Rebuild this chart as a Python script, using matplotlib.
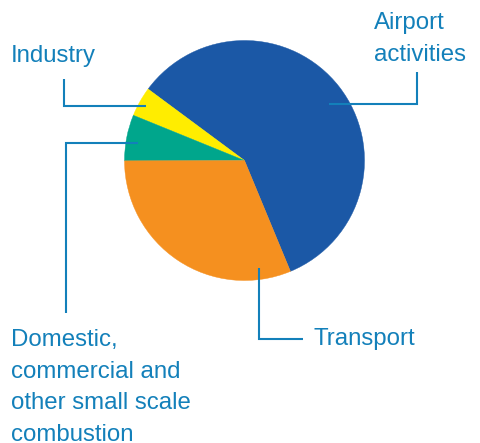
import matplotlib
matplotlib.use("Agg")
import matplotlib.pyplot as plt

# ── Data ────────────────────────────────────────────────────────────────────
labels = ["Airport\nactivities", "Industry",
          "Domestic,\ncommercial and\nother small scale\ncombustion", "Transport"]
shares = [58.6, 4.0, 6.2, 31.2]
colors = ["#1B58A6", "#FFED00", "#00A68C", "#F5901F"]

TEXT_COLOR = "#1380BA"
W, H = 480, 443


def Y(y):
    # pixel row (from top) -> data y (from bottom)
    return H - y


fig = plt.figure(figsize=(W / 100, H / 100), dpi=100)
ax = fig.add_axes([0, 0, 1, 1])

wedges, _ = ax.pie(shares, colors=colors, startangle=-67.5, counterclock=True,
                   center=(244.5, Y(160.5)), radius=120, frame=True)
for w, c in zip(wedges, colors):
    w.set_edgecolor(c)
    w.set_linewidth(0.3)
ax.set_xlim(0, W)
ax.set_ylim(0, H)
ax.set_aspect("equal")
ax.axis("off")

# ── Leader lines ────────────────────────────────────────────────────────────
line_kw = dict(color=TEXT_COLOR, lw=1.5, solid_capstyle="butt", solid_joinstyle="miter")
leaders = {
    "Airport": ([329, 417, 417], [104, 104, 72]),
    "Industry": ([146, 64, 64], [106, 106, 79]),
    "Domestic": ([138, 66, 66], [143, 143, 313]),
    "Transport": ([259, 259, 303], [268, 339, 339]),
}
for xs, ys in leaders.values():
    ax.plot(xs, [Y(v) for v in ys], **line_kw)

# ── Labels ──────────────────────────────────────────────────────────────────
font_kw = dict(color=TEXT_COLOR, fontsize=17.3, family="Liberation Sans",
               ha="left", va="baseline", linespacing=1.57)
ax.text(374, Y(61), labels[0], **font_kw)
ax.text(11, Y(62), labels[1], **font_kw)
ax.text(11, Y(441), labels[2], **font_kw)
ax.text(314, Y(345), labels[3], **font_kw)

fig.savefig("out.png", dpi=100)
